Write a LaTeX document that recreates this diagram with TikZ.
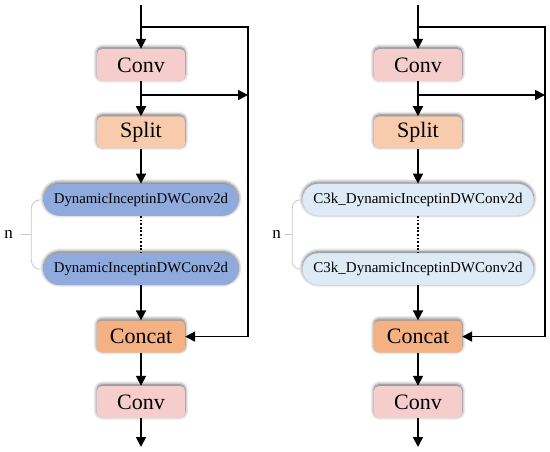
\documentclass[tikz,border=0pt]{standalone}
\usepackage{fontspec}
\setmainfont{Liberation Serif}
\usepackage{xcolor}
\usetikzlibrary{arrows.meta,positioning,shadows.blur,calc}
\definecolor{convpink}{HTML}{F6CDCD}
\definecolor{splitorange}{HTML}{F8CBAD}
\definecolor{catorange}{HTML}{F4B183}
\definecolor{dynblue}{HTML}{8FAADC}
\definecolor{c3kblue}{HTML}{DEEBF7}
\definecolor{c3kedge}{HTML}{C5D5E8}
\begin{document}
\begin{tikzpicture}[
  x=1pt,y=1pt,
  node distance=35pt,
  base/.style={rounded corners=5pt,minimum height=32pt,align=center,inner sep=2pt,
               blur shadow={shadow blur steps=8,shadow xshift=0pt,shadow yshift=1.5pt,
                            shadow blur radius=3.5pt,shadow opacity=60}},
  convbox/.style={base,fill=convpink,minimum width=88pt,font=\fontsize{22}{24}\selectfont},
  splitbox/.style={base,fill=splitorange,minimum width=88pt,font=\fontsize{22}{24}\selectfont},
  catbox/.style={base,fill=catorange,minimum width=88pt,font=\fontsize{22}{24}\selectfont},
  dynbox/.style={base,rounded corners=16pt,fill=dynblue,minimum width=195pt,
                 font=\fontsize{14.8}{16}\selectfont},
  c3kbox/.style={base,rounded corners=16pt,fill=c3kblue,draw=c3kedge,minimum width=231pt,
                 font=\fontsize{15}{17}\selectfont},
  flow/.style={-{Triangle[length=10pt,width=10pt]},line width=1.7pt},
  dots/.style={dash pattern=on 1.8pt off 1.8pt,line width=1.3pt},
  brace/.style={draw=black!22,line width=0.8pt},
  nlabel/.style={font=\fontsize{17}{19}\selectfont,inner sep=3pt}
]
\useasboundingbox (0,0) rectangle (550,451);

\node[convbox] (convA) at (141,386) {Conv};
\node[splitbox,below=of convA] (splitA) {Split};
\node[dynbox,below=of splitA] (dynA1) {DynamicInceptinDWConv2d};
\node[dynbox,below=37pt of dynA1] (dynA2) {DynamicInceptinDWConv2d};
\node[catbox,below=of dynA2] (catA) {Concat};
\node[convbox,below=33pt of catA] (convA2) {Conv};
\coordinate (inA) at (141,446);
\coordinate (outA) at (141,4);
\coordinate (skipA) at (248,424);
\coordinate (sideA) at (248,356);

\draw[flow] (inA) -- (convA);
\draw[flow] (inA |- skipA) -- (skipA) |- (catA);
\draw[flow] (convA) -- (splitA);
\draw[flow] (convA.south |- sideA) -- (sideA);
\draw[flow] (splitA) -- (dynA1);
\draw[dots] (dynA1) -- (dynA2);
\draw[flow] (dynA2) -- (catA);
\draw[flow] (catA) -- (convA2);
\draw[flow] (convA2) -- (outA);
\draw[brace] ([xshift=-3pt]dynA1.west) to[out=180,in=90] ([xshift=-12pt,yshift=-9pt]dynA1.west)
  -- ([xshift=-12pt,yshift=9pt]dynA2.west) to[out=-90,in=180] ([xshift=-3pt]dynA2.west);
\draw[brace] ($(dynA1.west)!.5!(dynA2.west)+(-12,0)$) -- ++(-10,0) node[nlabel,left=5pt] (nA) {n};

\node[convbox] (convB) at (418,386) {Conv};
\node[splitbox,below=of convB] (splitB) {Split};
\node[c3kbox,below=of splitB] (c3kB1) {C3k\_DynamicInceptinDWConv2d};
\node[c3kbox,below=37pt of c3kB1] (c3kB2) {C3k\_DynamicInceptinDWConv2d};
\node[catbox,below=of c3kB2] (catB) {Concat};
\node[convbox,below=33pt of catB] (convB2) {Conv};
\coordinate (inB) at (418,446);
\coordinate (outB) at (418,4);
\coordinate (skipB) at (545,424);
\coordinate (sideB) at (545,356);

\draw[flow] (inB) -- (convB);
\draw[flow] (inB |- skipB) -- (skipB) |- (catB);
\draw[flow] (convB) -- (splitB);
\draw[flow] (convB.south |- sideB) -- (sideB);
\draw[flow] (splitB) -- (c3kB1);
\draw[dots] (c3kB1) -- (c3kB2);
\draw[flow] (c3kB2) -- (catB);
\draw[flow] (catB) -- (convB2);
\draw[flow] (convB2) -- (outB);
\draw[brace] ([xshift=-2pt]c3kB1.west) to[out=180,in=90] ([xshift=-10pt,yshift=-8pt]c3kB1.west)
  -- ([xshift=-10pt,yshift=8pt]c3kB2.west) to[out=-90,in=180] ([xshift=-2pt]c3kB2.west);
\draw[brace] ($(c3kB1.west)!.5!(c3kB2.west)+(-10,0)$) -- ++(-7,0) node[nlabel,left=1pt] (nB) {n};
\end{tikzpicture}
\end{document}
